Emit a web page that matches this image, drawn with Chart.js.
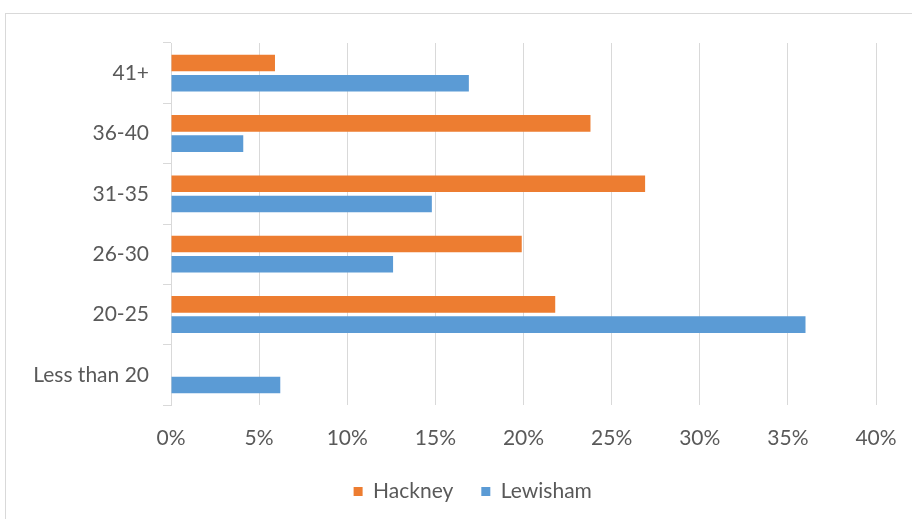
<!DOCTYPE html>
<html>
<head>
<meta charset="utf-8">
<script src="https://cdn.jsdelivr.net/npm/chart.js@4.4.1/dist/chart.umd.min.js"></script>
<style>
  html, body { margin: 0; padding: 0; background: #fff; }
  #wrap { width: 912px; height: 519px; position: relative; }
</style>
</head>
<body>
<div id="wrap"><canvas id="ageChart" width="912" height="519"></canvas></div>
<script>
// datos (porcentajes)
const categorias = ['41+', '36-40', '31-35', '26-30', '20-25', 'Less than 20'];
const hackney = [5.9, 23.8, 26.9, 19.9, 21.8, 0];
const lewisham = [16.9, 4.1, 14.8, 12.6, 36.0, 6.2];
const ticksX = [0, 5, 10, 15, 20, 25, 30, 35, 40];

const colorTexto = '#595959';
const colorGrid = '#D9D9D9';
const fuente = { family: 'Lato', size: 21 };

// marco exterior del area del grafico
const marco = {
    id: 'marco',
    beforeDraw(chart) {
        const ctx = chart.ctx;
        ctx.save();
        ctx.strokeStyle = colorGrid;
        ctx.lineWidth = 1;
        ctx.strokeRect(5.5, 13.5, 920, 520);
        ctx.restore();
    }
};

// en el original la leyenda queda algo a la izquierda del centro del area de trazado
const centrarLeyenda = {
    id: 'centrarLeyenda',
    afterLayout(chart) {
        const area = chart.chartArea;
        const leyenda = chart.legend;
        const objetivo = area.left + 0.428 * (area.right - area.left);
        const desplazamiento = objetivo - (leyenda.left + leyenda.right) / 2;
        leyenda.left += desplazamiento;
        leyenda.right += desplazamiento;
    }
};

new Chart(document.getElementById('ageChart'), {
    type: 'bar',
    data: {
        labels: categorias,
        datasets: [
            { label: 'Hackney', data: hackney, backgroundColor: '#ED7D31' },
            { label: 'Lewisham', data: lewisham, backgroundColor: '#5B9BD5' }
        ]
    },
    options: {
        indexAxis: 'y',
        responsive: false,
        animation: false,
        devicePixelRatio: 1,
        categoryPercentage: 0.67,
        barPercentage: 0.82,
        layout: { padding: { top: 43, right: 36, left: 0, bottom: 7 } },
        scales: {
            x: {
                min: 0,
                max: 40,
                afterBuildTicks: (scale) => { scale.ticks = ticksX.map(v => ({ value: v })); },
                afterFit: (scale) => {
                    scale.height = 48;
                    scale.paddingLeft = 0;
                    scale.paddingRight = 0;
                },
                ticks: {
                    color: colorTexto,
                    font: fuente,
                    padding: 21,
                    callback: (v) => v + '%'
                },
                grid: { color: colorGrid, drawTicks: false, lineWidth: 1 },
                border: { display: false }
            },
            y: {
                afterFit: (scale) => { scale.width = 171; },
                ticks: {
                    color: colorTexto,
                    font: fuente,
                    padding: 14
                },
                grid: { drawOnChartArea: false, color: colorGrid, tickLength: 8 },
                border: { display: true, color: colorGrid }
            }
        },
        plugins: {
            legend: {
                position: 'bottom',
                labels: {
                    color: colorTexto,
                    font: fuente,
                    boxWidth: 9,
                    boxHeight: 9,
                    padding: 28
                }
            },
            tooltip: { enabled: false }
        }
    },
    plugins: [marco, centrarLeyenda]
});
</script>
</body>
</html>
